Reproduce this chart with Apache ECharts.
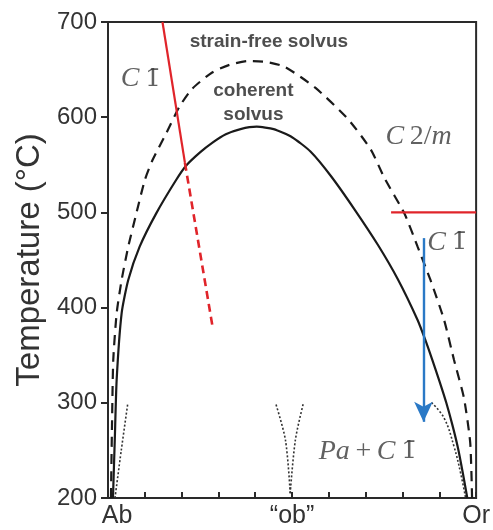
<!DOCTYPE html>
<html>
<head>
<meta charset="utf-8">
<script src="https://cdn.jsdelivr.net/npm/echarts@6/dist/echarts.min.js"></script>
<style>
  html, body { margin: 0; padding: 0; background: #fff; }
  #solvus { width: 493px; height: 530px; }
</style>
</head>
<body>
<div id="solvus"></div>
<script>
// composition axis: 0 = Ab, 100 = Or ; temperature in °C
var xTickLabels = { 0: "Ab", 50: "\u201Cob\u201D", 100: "Or" };
var tempTicks = [200, 300, 400, 500, 600, 700];

var coherentSolvus = [
  [1.35, 200], [1.85, 262], [2.35, 324], [3.7, 394], [5.5, 429], [8.6, 464],
  [13.1, 499], [18.5, 534], [21.2, 549], [25, 563], [28.3, 573], [32, 582],
  [36, 587.5], [40.4, 590], [45, 587.5], [50, 579], [55, 564], [60.6, 538],
  [67.0, 503], [73.3, 466], [78.7, 430], [84.1, 387], [86.2, 366], [88.1, 345],
  [90.1, 322], [91.9, 300], [93.6, 276], [95.1, 252], [96.4, 226], [97.6, 200]
];

var strainFreeSolvus = [
  [0.8, 200], [1.1, 280], [1.43, 345], [2.35, 394], [3.7, 429], [5.5, 464],
  [7.7, 499], [10.0, 534], [12.1, 555], [15.8, 583], [19.4, 611], [22.9, 630],
  [28.3, 647], [33, 655], [38, 659], [43, 658], [48, 653], [56.3, 631],
  [65.2, 598], [71.4, 566], [75.1, 536], [80.5, 499], [84.1, 464], [87.6, 429],
  [91.3, 387], [94.0, 345], [96.7, 305], [98.4, 258], [98.9, 200]
];

var transitionSolid = [[14.8, 700], [20.9, 552]];
var transitionDashed = [[20.9, 552], [28.4, 380]];
var transition500 = [[76.9, 500], [100, 500]];

var spinodalAb = [[1.9, 200], [3.6, 250], [5.4, 300]];
var spinodalObLeft = [[49.5, 205], [48.2, 261], [45.5, 300]];
var spinodalObRight = [[49.5, 205], [50.9, 261], [53.1, 300]];
var spinodalOr = [[97.1, 201], [95.8, 226], [94.0, 254], [91.3, 284], [87.7, 301]];

var coolingPath = [[85.7, 473], [85.7, 280]];

var annotations = [
  [43.7, 679, "strainFree"],
  [39.5, 615, "coherent"],
  [8.9, 640, "c1left"],
  [84.4, 580, "c2m"],
  [92.2, 468, "c1right"],
  [70.6, 249, "pac1"]
];

var labelText = {
  strainFree: "{b|strain-free solvus}",
  coherent: "{b|coherent}\n{b|solvus}",
  c1left: "{i|C}{n|\u2009}{d|1\u0304}",
  c2m: "{i|C}{n|\u20092/}{i|m}",
  c1right: "{i|C}{n|\u2009}{d|1\u0304}",
  pac1: "{i|Pa}{n|\u2009+\u2009}{i|C}{n|\u2009}{d|1\u0304}"
};

var chart = echarts.init(document.getElementById("solvus"));

function lineSeries(data, color, width, type, smooth) {
  return {
    type: "line",
    data: data,
    showSymbol: false,
    symbol: "none",
    smooth: smooth || false,
    silent: true,
    lineStyle: { color: color, width: width, type: type }
  };
}

var option = {
  animation: false,
  backgroundColor: "#fff",
  grid: {
    left: 108, right: 14, top: 22, bottom: 32,
    show: true, borderColor: "#2a2a2a", borderWidth: 2
  },
  xAxis: {
    type: "value",
    min: 0, max: 100, interval: 10,
    axisLine: { lineStyle: { color: "#2a2a2a", width: 2 } },
    axisTick: { inside: true, length: 6, lineStyle: { color: "#2a2a2a", width: 2 } },
    splitLine: { show: false },
    axisLabel: {
      margin: 6,
      color: "#333",
      fontFamily: "Liberation Sans",
      fontSize: 25,
      showMinLabel: true,
      showMaxLabel: true,
      formatter: function (v) {
        if (v === 0) return "{ab|" + xTickLabels[0] + "}";
        return xTickLabels[v] || "";
      },
      rich: { ab: { fontFamily: "Liberation Sans", fontSize: 25, color: "#333", padding: [0, 0, 0, 18] } }
    }
  },
  yAxis: {
    type: "value",
    min: tempTicks[0], max: tempTicks[tempTicks.length - 1], interval: 100,
    name: "Temperature (\u00B0C)",
    nameLocation: "middle",
    nameGap: 62,
    nameTextStyle: { fontFamily: "Liberation Sans", fontSize: 33, color: "#333" },
    axisLine: { lineStyle: { color: "#2a2a2a", width: 2 } },
    axisTick: { inside: false, length: 7, lineStyle: { color: "#2a2a2a", width: 2 } },
    splitLine: { show: false },
    axisLabel: { margin: 11, color: "#333", fontFamily: "Liberation Sans", fontSize: 24 }
  },
  series: [
    lineSeries(strainFreeSolvus, "#1a1a1a", 2.2, [10, 7], 0.2),
    lineSeries(coherentSolvus, "#1a1a1a", 2.2, "solid", 0.2),
    lineSeries(transitionSolid, "#e0242a", 2.2, "solid"),
    lineSeries(transitionDashed, "#e0242a", 2.6, [8, 5]),
    lineSeries(transition500, "#e0242a", 2.2, "solid"),
    lineSeries(spinodalAb, "#333", 1.6, [2, 2], 0.3),
    lineSeries(spinodalObLeft, "#333", 1.6, [2, 2], 0.3),
    lineSeries(spinodalObRight, "#333", 1.6, [2, 2], 0.3),
    lineSeries(spinodalOr, "#333", 1.6, [2, 2], 0.4),
    {
      type: "line",
      data: [],
      silent: true,
      markLine: {
        silent: true,
        animation: false,
        symbol: ["none", "arrow"],
        symbolSize: [14, 20],
        label: { show: false },
        lineStyle: { color: "#2a79c6", width: 2.4, type: "solid" },
        data: [[{ coord: coolingPath[0] }, { coord: coolingPath[1] }]]
      }
    },
    {
      type: "scatter",
      data: annotations,
      symbolSize: 0,
      silent: true,
      label: {
        show: true,
        position: "inside",
        formatter: function (p) { return labelText[p.data[2]]; },
        rich: {
          b: { fontFamily: "Liberation Sans", fontWeight: "bold", fontSize: 19, color: "#222", lineHeight: 24, align: "center" },
          i: { fontFamily: "Liberation Serif", fontStyle: "italic", fontSize: 28, color: "#3a3a3a" },
          n: { fontFamily: "Liberation Serif", fontSize: 28, color: "#3a3a3a" },
          d: { fontFamily: "DejaVu Serif", fontSize: 25, color: "#3a3a3a" }
        }
      }
    }
  ]
};

chart.setOption(option);
</script>
</body>
</html>
